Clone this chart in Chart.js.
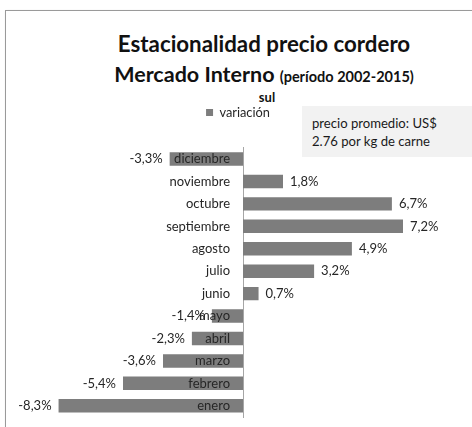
<!DOCTYPE html>
<html>
<head>
<meta charset="utf-8">
<script src="https://cdn.jsdelivr.net/npm/chart.js@4/dist/chart.umd.min.js"></script>
<style>
  html, body { margin: 0; padding: 0; background: #fff; overflow: hidden; }
  body { width: 472px; height: 427px; position: relative; font-family: Lato, "Open Sans", sans-serif; }
  #frame { position: absolute; left: 5px; top: 10px; width: 480px; height: 430px; border: 1px solid #9a9a9a; box-shadow: 1px 1px 2px #c8c8c8; }
  .t { position: absolute; left: 0; width: 528px; text-align: center; color: #111; font-weight: bold; white-space: nowrap; }
  #t1 { top: 30px; font-size: 22.3px; line-height: 28px; }
  #t2 { top: 60px; font-size: 21.5px; line-height: 28px; }
  #t2 span { font-size: 14.5px; }
  #t3 { top: 89px; font-size: 13px; line-height: 16px; left: 0; width: 534px; }
  #note { position: absolute; left: 302px; top: 106px; width: 180px; height: 51px; background: #f2f2f2; }
  #note div { position: absolute; left: 10px; font-size: 13.1px; line-height: 18px; color: #1a1a1a; white-space: nowrap; }
  canvas { position: absolute; left: 0; top: 0; }
</style>
</head>
<body>
<div id="frame"></div>
<div class="t" id="t1">Estacionalidad precio cordero</div>
<div class="t" id="t2">Mercado Interno <span>(período 2002-2015)</span></div>
<div class="t" id="t3">sul</div>
<div id="note"><div style="top:8px">precio promedio: US$</div><div style="top:26px">2.76 por kg de carne</div></div>
<canvas id="chart" width="472" height="427"></canvas>
<script>
var months = ['enero', 'febrero', 'marzo', 'abril', 'mayo', 'junio', 'julio', 'agosto', 'septiembre', 'octubre', 'noviembre', 'diciembre'];
var variacion = [-8.3, -5.4, -3.6, -2.3, -1.4, 0.7, 3.2, 4.9, 7.2, 6.7, 1.8, -3.3];
var seriesName = 'variación';

var labelFont = { family: 'Lato', size: 13 };

// value labels at the end of each bar and month names next to the zero line, like Excel
var barLabels = {
    id: 'barLabels',
    afterDraw: function(chart) {
        var ctx = chart.ctx;
        var meta = chart.getDatasetMeta(0);
        var zero = chart.scales.x.getPixelForValue(0);
        ctx.save();
        ctx.font = labelFont.size + 'px ' + labelFont.family;
        ctx.fillStyle = '#262626';
        ctx.textBaseline = 'middle';
        meta.data.forEach(function(bar, i) {
            var v = variacion[i];
            var txt = v.toFixed(1).replace('.', ',') + '%';
            if (v >= 0) {
                ctx.textAlign = 'left';
                ctx.fillText(txt, bar.x + 7, bar.y);
            } else {
                ctx.textAlign = 'right';
                ctx.fillText(txt, bar.x - 7, bar.y);
            }
            ctx.textAlign = 'right';
            ctx.fillText(months[i], zero - 13, bar.y);
        });
        ctx.restore();
    }
};

// extra room under the legend, and nudge it a bit to the left
var legendGap = {
    id: 'legendGap',
    beforeInit: function(chart) {
        var fit = chart.legend.fit;
        chart.legend.fit = function() {
            fit.bind(chart.legend)();
            this.height += 19;
        };
    },
    afterLayout: function(chart) {
        chart.legend.left -= 5;
        chart.legend.right -= 5;
    }
};

chart = new Chart(document.getElementById('chart').getContext('2d'), {
    type: 'bar',
    data: {
        labels: months,
        datasets: [{
            label: seriesName,
            data: variacion,
            backgroundColor: '#7d7d7d',
            borderWidth: 0,
            barPercentage: 0.6,
            categoryPercentage: 1
        }]
    },
    options: {
        indexAxis: 'y',
        responsive: false,
        animation: false,
        layout: { padding: { left: 43, right: 29, top: 96, bottom: 10 } },
        plugins: {
            legend: {
                position: 'top',
                labels: {
                    boxWidth: 7,
                    boxHeight: 7,
                    padding: 10,
                    color: '#262626',
                    font: { family: 'Lato', size: 12.8 }
                }
            },
            tooltip: { enabled: false }
        },
        scales: {
            x: {
                display: false,
                min: -9,
                max: 9
            },
            y: {
                reverse: true,
                position: { x: 0 },
                grid: { display: false, drawTicks: false },
                border: { display: true, color: '#a6a6a6', width: 1 },
                ticks: { display: false }
            }
        }
    },
    plugins: [barLabels, legendGap]
});
</script>
</body>
</html>
